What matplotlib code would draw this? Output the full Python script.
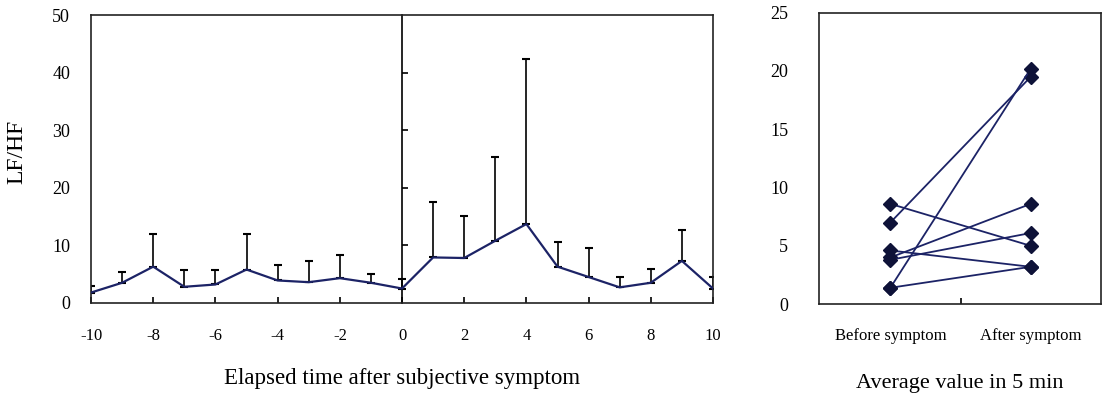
import numpy as np
import matplotlib
matplotlib.use("Agg")
import matplotlib.pyplot as plt

plt.rcParams["font.family"] = ["Liberation Serif", "DejaVu Serif"]
plt.rcParams["axes.unicode_minus"] = False

# Left panel: LF/HF mean and upper error over elapsed time (min)
elapsed = [-10, -9, -8, -7, -6, -5, -4, -3, -2, -1, 0, 1, 2, 3, 4, 5, 6, 7, 8, 9, 10]
lfhf_mean = [1.8, 3.5, 6.3, 2.8, 3.2, 5.8, 3.9, 3.6, 4.3, 3.5, 2.5,
             7.9, 7.8, 10.8, 13.7, 6.3, 4.5, 2.7, 3.5, 7.3, 2.5]
lfhf_upper = [2.9, 5.4, 11.9, 5.8, 5.8, 11.9, 6.6, 7.3, 8.3, 5.0, 4.1,
              17.5, 15.1, 25.4, 42.3, 10.5, 9.6, 4.5, 5.9, 12.7, 4.5]
x_ticks = [-10, -8, -6, -4, -2, 0, 2, 4, 6, 8, 10]
y_ticks = [0, 10, 20, 30, 40, 50]

# Right panel: average value in 5 min, before vs after symptom (one line per subject)
before_vals = [8.6, 7.0, 1.4, 1.4, 4.6, 4.0, 3.8]
after_vals = [5.0, 19.5, 20.2, 3.2, 3.2, 8.6, 6.1]
groups = ["Before symptom", "After symptom"]
right_y_ticks = [0, 5, 10, 15, 20, 25]

navy = "#1c2366"
mark_col = "#0e1238"

fig = plt.figure(figsize=(11.02, 3.97), dpi=100)

# ---- left panel ----
ax = fig.add_axes([0.0826, 0.237, 0.5644, 0.725])
mean = np.array(lfhf_mean)
err = np.array(lfhf_upper) - mean
ax.errorbar(elapsed, mean, yerr=[np.zeros_like(err), err], fmt="none",
            ecolor="black", elinewidth=1.2, capsize=3, capthick=1.5, zorder=2)
ax.plot(elapsed, mean, color=navy, lw=1.6, zorder=3)
ax.set_xlim(-10, 10)
ax.set_ylim(0, 50)
ax.set_xticks(x_ticks)
ax.set_yticks(y_ticks)
ax.tick_params(axis="x", direction="in", length=4, width=1.2, labelsize=12, pad=18)
ax.tick_params(axis="y", length=0, labelsize=13, pad=15)
for s in ax.spines.values():
    s.set_linewidth(1.2)
    s.set_color("#222222")
ax.set_ylabel("LF/HF", fontsize=17)
ax.yaxis.set_label_coords(-0.103, 0.525)
ax.set_xlabel("Elapsed time after subjective symptom", fontsize=16.5, labelpad=17)

# divider at time 0 with ticks pointing right
mid = ax.secondary_yaxis(0.5)
mid.set_yticks([10, 20, 30, 40])
mid.tick_params(direction="out", length=4, width=1.2, labelleft=False, labelright=False)
mid.spines["left"].set_linewidth(1.2)
mid.spines["right"].set_linewidth(1.2)

# ---- right panel ----
ax2 = fig.add_axes([0.743, 0.234, 0.256, 0.734])
for b, a in zip(before_vals, after_vals):
    ax2.plot([1, 2], [b, a], color=navy, lw=1.3, marker="D", markersize=7,
             markerfacecolor=mark_col, markeredgecolor=mark_col)
ax2.set_xlim(0.49, 2.5)
ax2.set_ylim(0, 25)
ax2.set_yticks(right_y_ticks)
ax2.set_xticks([1, 2])
ax2.set_xticklabels(groups)
ax2.set_xticks([1.5], minor=True)
ax2.tick_params(axis="x", which="major", length=0, labelsize=12, pad=17)
ax2.tick_params(axis="x", which="minor", direction="in", length=4, width=1.2)
ax2.tick_params(axis="y", length=0, labelsize=13, pad=22)
for s in ax2.spines.values():
    s.set_linewidth(1.2)
    s.set_color("#222222")
ax2.set_xlabel("Average value in 5 min", fontsize=16, labelpad=22)

fig.savefig("out.png", dpi=100)
